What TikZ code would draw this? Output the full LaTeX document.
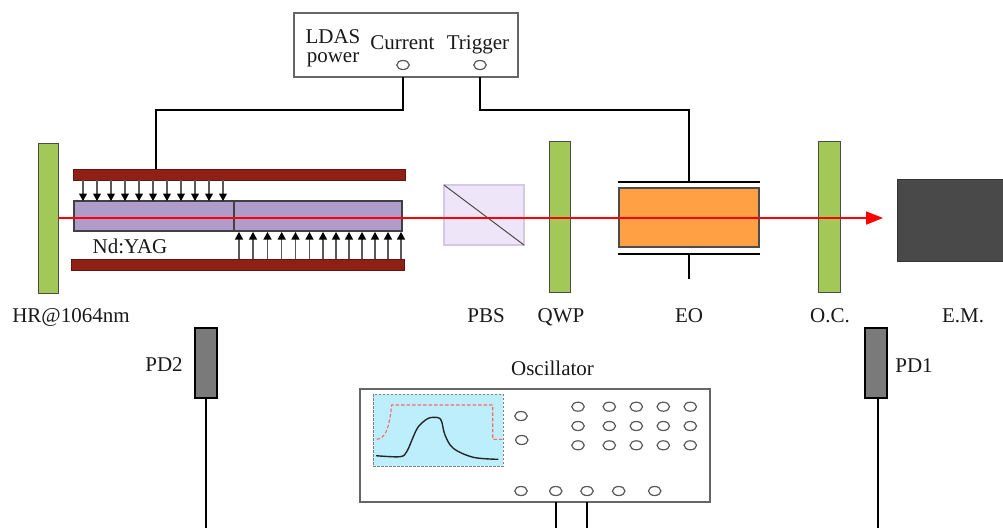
\documentclass[tikz,border=0pt]{standalone}
\usepackage{fontspec}
\setmainfont{Liberation Serif}
\usetikzlibrary{arrows.meta,shapes.geometric}
\definecolor{mirrorgreen}{HTML}{A2C857}
\definecolor{barred}{HTML}{8E2015}
\definecolor{rodpurple}{HTML}{AF9CCB}
\definecolor{pbsfill}{HTML}{EEE6F8}
\definecolor{pbsedge}{HTML}{D5C8E6}
\definecolor{eoorange}{HTML}{FFA044}
\definecolor{screenblue}{HTML}{BDEEFC}
\definecolor{emgray}{HTML}{494949}
\definecolor{pdgray}{HTML}{7A7A7A}
\definecolor{edgegray}{HTML}{5A5A5A}
\tikzset{
  x=1pt,y=-1pt,
  box/.style={draw=edgegray,line width=1.2pt,inner sep=0pt,outer sep=0pt,rectangle},
  mirror/.style={box,fill=mirrorgreen,draw=black!70,line width=1pt},
  pumpbar/.style={box,fill=barred,draw=barred!70!black,line width=1pt},
  rod/.style={box,fill=rodpurple,draw=black!75},
  panel/.style={box,fill=white,draw=black!60,line width=1.4pt},
  port/.style={draw=black!65,line width=1.2pt,fill=white,ellipse,inner sep=0pt,outer sep=0pt,minimum width=12.5pt,minimum height=9pt},
  wire/.style={draw=black,line width=2.2pt},
  pumparrow/.style={draw=black!65,line width=1.1pt,-{Triangle[length=7.5pt,width=8pt,color=black,fill=black]}},
  beam/.style={draw=red,line width=1.7pt},
  lbl/.style={font=\fontsize{21}{21}\selectfont,inner sep=0pt,text=black!90,anchor=base},
}
\newcommand{\rectnode}[6]{%
  \pgfmathsetmacro{\cxx}{(#3+#5)/2}\pgfmathsetmacro{\cyy}{(#4+#6)/2}%
  \pgfmathsetmacro{\www}{#5-#3}\pgfmathsetmacro{\hhh}{#6-#4}%
  \node[#1,minimum width=\www pt,minimum height=\hhh pt] (#2) at (\cxx,\cyy) {};}
\begin{document}
\begin{tikzpicture}
\useasboundingbox (0,0) rectangle (1003,528);
% LDAS power
\rectnode{panel}{ldas}{294}{13}{518}{77}
\node[lbl] (ldasa) at (333,43) {LDAS};
\node[lbl] (ldasb) at (333,62) {power};
\node[lbl] (currentlabel) at (402.5,49) {Current};
\node[lbl] (triggerlabel) at (478,49) {Trigger};
\node[port] (curport) at (403,65) {};
\node[port] (trigport) at (480,65) {};
% mirrors
\rectnode{mirror}{hr}{38}{143}{58}{293}
\rectnode{mirror}{qwp}{549}{141}{570}{292}
\rectnode{mirror}{oc}{818}{141}{840}{292}
% pump bars
\rectnode{pumpbar}{upbar}{73}{169}{405}{180}
\rectnode{pumpbar}{lowbar}{71}{259}{404}{270}
% rods
\rectnode{rod}{rodl}{74}{201}{234}{231}
\rectnode{rod}{rodr}{234}{201}{402}{231}
\node[lbl] (ndyag) at (130,253) {Nd:YAG};
% pump arrows
\foreach \i/\xx in {1/83,2/97,3/111,4/125,5/139,6/153,7/167,8/181,9/195,10/209,11/223}{
  \coordinate (da\i) at (\xx,180);
  \coordinate (db\i) at (\xx,201);
  \draw[pumparrow] (da\i) -- (db\i);
}
\foreach \i/\xx in {1/239,2/253,3/267.5,4/281.7,5/295.5,6/309.5,7/323,8/336,9/349,10/362,11/375,12/388,13/401}{
  \coordinate (ua\i) at (\xx,259);
  \coordinate (ub\i) at (\xx,232);
  \draw[pumparrow] (ua\i) -- (ub\i);
}
% PBS
\rectnode{box,fill=pbsfill,draw=pbsedge,line width=1.2pt}{pbs}{444}{185}{524}{245}
\draw[draw=black!70,line width=1pt] (pbs.north west) -- (pbs.south east);
% EO
\rectnode{box,fill=eoorange,draw=black!70}{eo}{619}{188}{759}{247}
\coordinate (eotl) at (618,182); \coordinate (eotr) at (760,182);
\coordinate (eobl) at (618,254); \coordinate (eobr) at (760,254);
\coordinate (eotop) at (689,182); \coordinate (eobot) at (689,254); \coordinate (eostub) at (689,279);
\draw[wire] (eotl) -- (eotr);
\draw[wire] (eobl) -- (eobr);
\draw[wire] (eobot) -- (eostub);
% EM
\rectnode{box,fill=emgray,draw=emgray!70!black,line width=1pt}{em}{897}{179}{1003}{261}
% beam
\coordinate (beamstart) at (58,218);
\coordinate (beamend) at (883,218);
\draw[beam,-{Triangle[length=17pt,width=13pt,fill=red]}] (beamstart) -- (beamend);
% wires LDAS
\coordinate (cw1) at (403,110); \coordinate (cw2) at (156,110);
\coordinate (tw1) at (480,110);
\draw[wire] (curport |- ldas.south) -- (cw1) -- (cw2) -- (cw2 |- upbar.north);
\draw[wire] (trigport |- ldas.south) -- (tw1) -- (eotop |- tw1) -- (eotop);
% labels
\node[lbl] (hrl) at (71,322) {HR@1064nm};
\node[lbl] (pbsl) at (486,322) {PBS};
\node[lbl] (qwpl) at (561,322) {QWP};
\node[lbl] (eol) at (689,322) {EO};
\node[lbl] (ocl) at (830,322) {O.C.};
\node[lbl] (eml) at (963,322) {E.M.};
% detectors
\rectnode{box,fill=pdgray,draw=black,line width=1.8pt}{pdtwo}{195}{328}{217}{398}
\rectnode{box,fill=pdgray,draw=black,line width=1.8pt}{pdone}{865}{328}{887}{398}
\node[lbl] (pdtwol) at (164,371) {PD2};
\node[lbl] (pdonel) at (914,372) {PD1};
\coordinate (pdtwoend) at (206,528);
\coordinate (pdoneend) at (878,528);
\draw[wire] (pdtwoend |- pdtwo.south) -- (pdtwoend);
\draw[wire] (pdoneend |- pdone.south) -- (pdoneend);
% oscillator
\node[lbl] (osclabel) at (552.5,375) {Oscillator};
\rectnode{panel}{osc}{360}{389}{710}{502}
\rectnode{box,fill=screenblue,draw=black!50,dash pattern=on 2.5pt off 1.5pt,line width=1pt}{screen}{373}{394}{503}{466}
\draw[draw=red!60,line width=1.1pt,dash pattern=on 3.5pt off 2pt]
  (376.7,439.3) .. controls (385,438.5) and (389,430) .. (391.7,405)
  -- (492.7,405) -- (492.7,439.3) -- (502.7,439.3);
\draw[draw=black!85,line width=1.4pt] plot[smooth,tension=0.55] coordinates {
  (376,455.7) (400,456.7) (406.7,451.7) (413.3,436.7) (418.3,426.7) (428.3,418.3)
  (438.3,417.7) (441.7,421.7) (445,435) (453.3,448.3) (473.3,457.3) (498.3,459.3)};
\node[port] (pl1) at (521,416) {};
\node[port] (pl2) at (521.7,440) {};
\foreach \cc/\xx in {1/578,2/609.3,3/636.3,4/663.3,5/690.3}{
  \foreach \rr/\yy in {1/406.7,2/426,3/445.3}{
    \node[port] (g\cc\rr) at (\xx,\yy) {};
  }
}
\node[port] (pb1) at (521,491) {};
\node[port] (pb2) at (555.7,491) {};
\node[port] (pb3) at (587,491) {};
\node[port] (pb4) at (618.7,491) {};
\node[port] (pb5) at (654.7,491) {};
\coordinate (oe1) at (555.7,528);
\coordinate (oe2) at (587,528);
\draw[wire] (oe1 |- osc.south) -- (oe1);
\draw[wire] (oe2 |- osc.south) -- (oe2);
\end{tikzpicture}
\end{document}
